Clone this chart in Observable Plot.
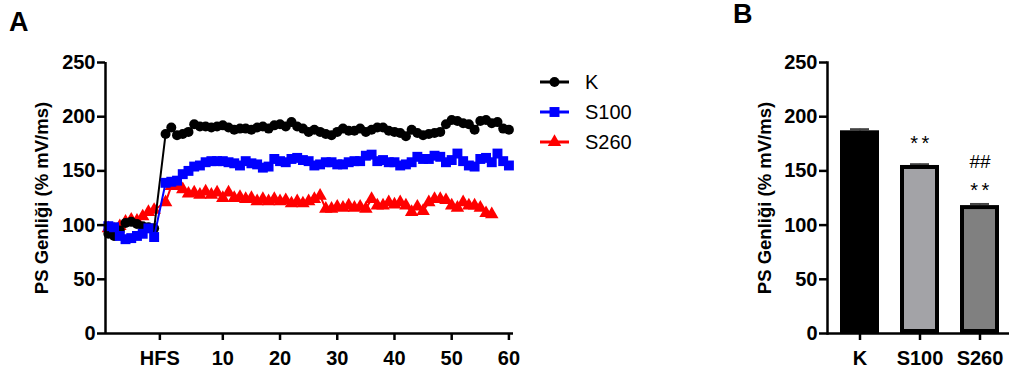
<!DOCTYPE html>
<html>
<head>
<meta charset="utf-8">
<script src="https://cdn.jsdelivr.net/npm/d3@7"></script>
<script src="https://cdn.jsdelivr.net/npm/@observablehq/plot@0.6"></script>
<style>
  html, body { margin: 0; padding: 0; background: #fff; }
  #page { position: relative; width: 1009px; height: 376px; overflow: hidden; font-family: "Liberation Sans", Arial, sans-serif; }
  .panel { position: absolute; top: 0; }
  .plabel { position: absolute; font-weight: bold; font-size: 27px; line-height: 1; }
  .stars text { letter-spacing: 3.5px; }
</style>
</head>
<body>
<div id="page">
  <div id="a" class="panel" style="left:0px;"></div>
  <div id="legend" class="panel" style="left:530px; top:60px;"></div>
  <div id="b" class="panel" style="left:700px;"></div>
  <div class="plabel" style="left:9px; top:9px;">A</div>
  <div class="plabel" style="left:733px; top:1px;">B</div>
</div>
<script>
// ---------- Panel A data ----------
const minutesPre = [-10, -9, -8, -7, -6, -5, -4, -3, -2];
const minutesPost = [0,1,2,3,4,5,6,7,8,9,10,11,12,13,14,15,16,17,18,19,20,21,22,23,24,25,26,27,28,29,30,
  31,32,33,34,35,36,37,38,39,40,41,42,43,44,45,46,47,48,49,50,51,52,53,54,55,56,57,58,59,60];

const kPre = [92, 90, 95, 102, 103, 101, 99, 98, 97];
const kPost = [184,190,183,184,186,193,191,191,190,191,192,190,188,189,189,188,190,191,189,192,193,
  191,195,191,189,186,188,186,184,183,186,189,187,187,189,186,188,190,190,187,186,
  185,182,188,185,183,184,185,186,193,197,196,194,193,188,196,197,194,195,189,188];

const s100Pre = [99, 98, 90, 87, 88, 90, 92, 97, 89];
const s100Post = [139,140,141,147,150,154,155,158,159,159,159,158,157,155,159,157,156,153,154,161,159,
  158,161,162,160,159,155,156,158,158,156,156,158,159,159,164,165,159,160,158,158,
  155,156,158,163,161,161,164,163,158,160,166,159,155,154,161,162,158,166,159,155];

const s260Pre = [97, 96, 99, 103, 105, 104, 108, 112, 114];
const s260Post = [121,136,136,133,129,130,128,131,128,130,125,130,125,126,124,125,122,124,122,124,122,
  123,120,122,120,122,124,127,115,115,117,116,118,116,117,115,124,118,118,121,119,
  121,118,112,117,113,121,124,124,123,118,116,121,118,118,116,111,110];

const seriesNames = ["K", "S100", "S260"];
const seriesColors = ["#000000", "#0000ff", "#ff0000"];
const seriesSymbols = ["circle", "square", "triangle"];
const seriesRadius = [5, 5.6, 5];

const xTicks = [-1, 10, 20, 30, 40, 50, 60];
const xTickLabels = ["HFS", "10", "20", "30", "40", "50", "60"];
const yTicks = [0, 50, 100, 150, 200, 250];
const yLabel = "PS Genliği (% mV/ms)";

function build(name, pre, post) {
  const xs = minutesPre.concat(minutesPost);
  const vs = pre.concat(post);
  return vs.map((v, i) => ({series: name, minute: xs[i], value: v}));
}
const seriesData = [
  build("K", kPre, kPost),
  build("S100", s100Pre, s100Post),
  build("S260", s260Pre, s260Post)
];

// ---------- Panel B data ----------
const groups = ["K", "S100", "S260"];
const means = [187, 155, 118];
const sems = [1.5, 1.2, 1.5];
const barFills = ["#000000", "#a3a3a7", "#808080"];
const starLabels = ["", "**", "**"];
const starY = [null, 175.5, 131.5];
const hashLabels = ["", "", "##"];
const hashY = [null, null, 158.5];

const barData = groups.map((g, i) => ({group: g, mean: means[i], sem: sems[i], fill: barFills[i]}));
const starData = groups.map((g, i) => ({group: g, text: starLabels[i], y: starY[i]})).filter(d => d.text);
const hashData = groups.map((g, i) => ({group: g, text: hashLabels[i], y: hashY[i]})).filter(d => d.text);

const FONT = '"Liberation Sans", Arial, sans-serif';

// ---------- Panel A ----------
const drawOrder = [2, 0, 1];
const marksA = [];
for (const i of drawOrder) {
  marksA.push(Plot.line(seriesData[i], {x: "minute", y: "value", stroke: seriesColors[i], strokeWidth: 2}));
  marksA.push(Plot.dot(seriesData[i], {x: "minute", y: "value", fill: seriesColors[i], stroke: "none",
    symbol: seriesSymbols[i], r: seriesRadius[i]}));
}
const plotA = Plot.plot({
  width: 530, height: 376,
  marginLeft: 105, marginRight: 17, marginTop: 62, marginBottom: 43,
  style: {fontFamily: FONT, fontWeight: "bold", color: "#000", background: "transparent"},
  x: {domain: [-10.5, 60.8], ticks: xTicks},
  y: {domain: [0, 250], ticks: yTicks},
  marks: [
    ...marksA,
    Plot.ruleX([-10.5], {stroke: "#000", strokeWidth: 2.5}),
    Plot.ruleY([0], {stroke: "#000", strokeWidth: 2.5}),
    Plot.axisX({ticks: xTicks, tickFormat: d => xTickLabels[xTicks.indexOf(d)], tickSize: 7, tickPadding: 10,
      strokeWidth: 2.5, fontSize: 20, fontWeight: "bold", label: null}),
    Plot.axisY({ticks: yTicks, tickSize: 8, tickPadding: 2, strokeWidth: 2.5, fontSize: 20, fontWeight: "bold", label: null}),
    Plot.text([yLabel], {frameAnchor: "left", textAnchor: "middle", rotate: -90, dx: -63, fontSize: 18.5, fontWeight: "bold", text: d => d})
  ]
});
document.getElementById("a").appendChild(plotA);

// ---------- Legend ----------
const legend = d3.select("#legend").append("svg").attr("width", 130).attr("height", 110)
  .style("font-family", FONT);
seriesNames.forEach((n, i) => {
  const y = 22 + i * 30;
  legend.append("line").attr("x1", 10).attr("x2", 39).attr("y1", y).attr("y2", y)
    .attr("stroke", seriesColors[i]).attr("stroke-width", 3);
  const sym = {circle: d3.symbolCircle, square: d3.symbolSquare, triangle: d3.symbolTriangle}[seriesSymbols[i]];
  legend.append("path").attr("transform", `translate(24.5,${y})`)
    .attr("d", d3.symbol(sym, Math.PI * seriesRadius[i] * seriesRadius[i])())
    .attr("fill", seriesColors[i]);
  legend.append("text").attr("x", 55).attr("y", y).attr("dy", "0.35em")
    .attr("font-size", 20).text(n);
});

// ---------- Panel B ----------
const plotB = Plot.plot({
  width: 309, height: 376,
  marginLeft: 127, marginRight: 0, marginTop: 62, marginBottom: 43,
  style: {fontFamily: FONT, fontWeight: "bold", color: "#000", background: "transparent"},
  x: {type: "band", domain: groups, range: [129, 309], paddingInner: 0.35, paddingOuter: 0.175},
  y: {domain: [0, 250], ticks: yTicks},
  marks: [
    Plot.ruleX(barData, {x: "group", y1: "mean", y2: d => d.mean + d.sem, stroke: "#444", strokeWidth: 2}),
    Plot.tickY(barData, {x: "group", y: d => d.mean + d.sem, stroke: "#444", strokeWidth: 2, inset: 10}),
    Plot.barY(barData, {x: "group", y: "mean", fill: "fill", stroke: "#000", strokeWidth: 4, inset: 2}),
    Plot.text(starData, {x: "group", y: "y", text: "text", fontSize: 20, fontWeight: "normal", dx: 1.5, className: "stars"}),
    Plot.text(hashData, {x: "group", y: "y", text: "text", fontSize: 19, fontWeight: "normal"}),
    Plot.ruleY([0], {stroke: "#000", strokeWidth: 2.5}),
    Plot.axisX({tickSize: 7, tickPadding: 10, strokeWidth: 2.5, fontSize: 20, fontWeight: "bold", label: null}),
    Plot.axisY({ticks: yTicks, tickSize: 8, tickPadding: 2, strokeWidth: 2.5, fontSize: 20, fontWeight: "bold", label: null}),
    Plot.frame({anchor: "left", stroke: "#000", strokeWidth: 2.5}),
    Plot.text([yLabel], {frameAnchor: "left", textAnchor: "middle", rotate: -90, dx: -62, fontSize: 18.5, fontWeight: "bold", text: d => d})
  ]
});
document.getElementById("b").appendChild(plotB);
</script>
</body>
</html>
